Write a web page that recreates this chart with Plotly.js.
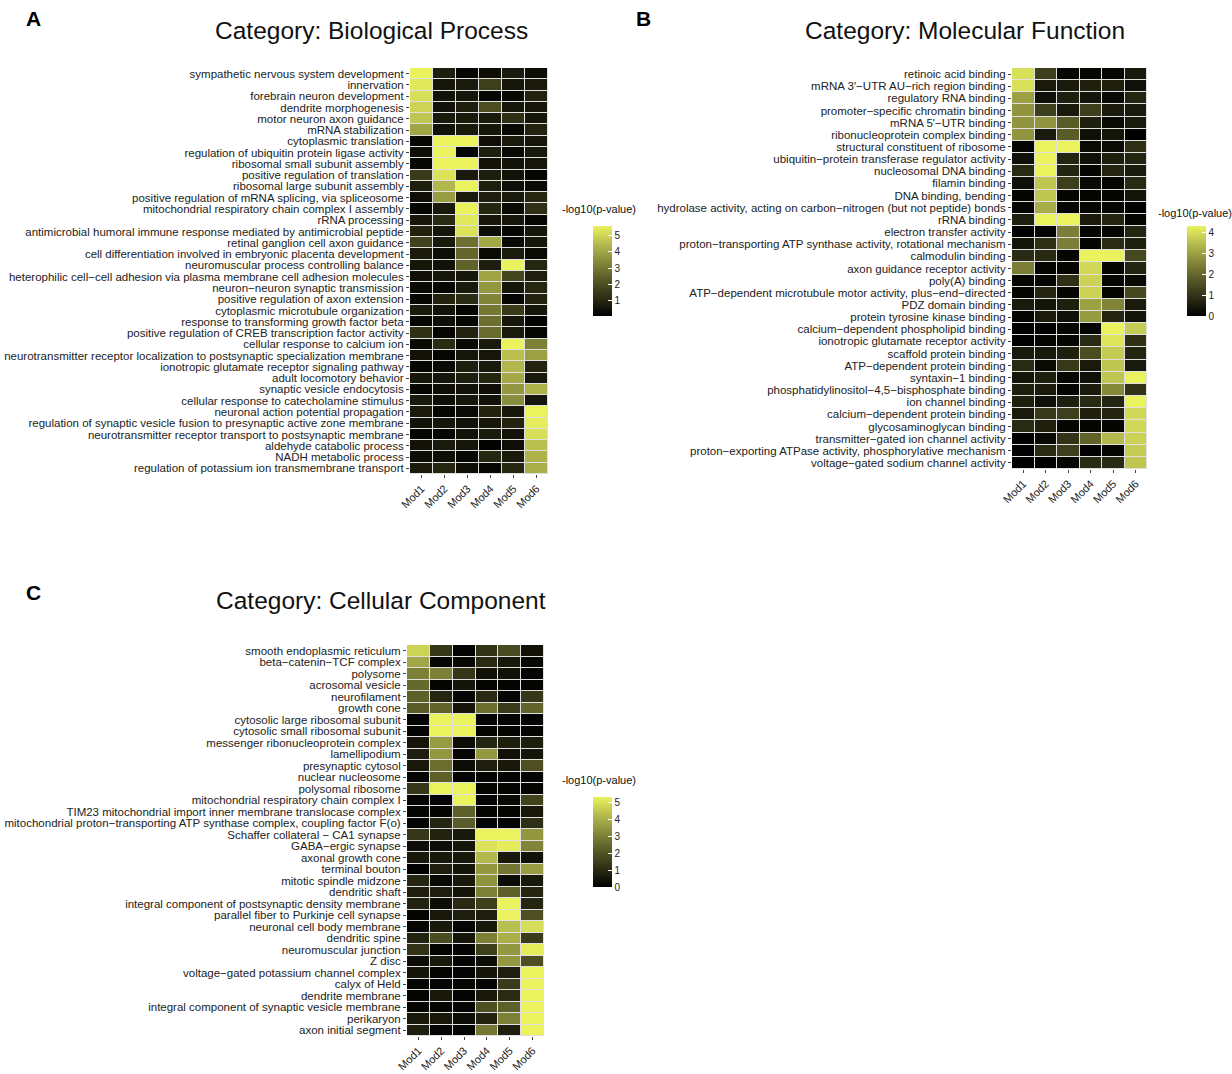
<!DOCTYPE html>
<html><head><meta charset="utf-8">
<script src="https://cdn.plot.ly/plotly-3.0.1.min.js"></script>
<style>body{margin:0;background:#fff}#chart{width:1232px;height:1074px}</style>
</head><body><div id="chart"></div>
<script>
const mods = ["Mod1","Mod2","Mod3","Mod4","Mod5","Mod6"];

const bpTerms = [
"sympathetic nervous system development","innervation","forebrain neuron development","dendrite morphogenesis","motor neuron axon guidance","mRNA stabilization",
"cytoplasmic translation","regulation of ubiquitin protein ligase activity","ribosomal small subunit assembly","positive regulation of translation","ribosomal large subunit assembly","positive regulation of mRNA splicing, via spliceosome",
"mitochondrial respiratory chain complex I assembly","rRNA processing","antimicrobial humoral immune response mediated by antimicrobial peptide","retinal ganglion cell axon guidance","cell differentiation involved in embryonic placenta development","neuromuscular process controlling balance",
"heterophilic cell−cell adhesion via plasma membrane cell adhesion molecules","neuron−neuron synaptic transmission","positive regulation of axon extension","cytoplasmic microtubule organization","response to transforming growth factor beta","positive regulation of CREB transcription factor activity",
"cellular response to calcium ion","neurotransmitter receptor localization to postsynaptic specialization membrane","ionotropic glutamate receptor signaling pathway","adult locomotory behavior","synaptic vesicle endocytosis","cellular response to catecholamine stimulus",
"neuronal action potential propagation","regulation of synaptic vesicle fusion to presynaptic active zone membrane","neurotransmitter receptor transport to postsynaptic membrane","aldehyde catabolic process","NADH metabolic process","regulation of potassium ion transmembrane transport"];

const bpValues = [
[5.6,0.8,0.2,0.4,0.7,0.4],[5.4,0.6,0.7,1.6,0.6,0.7],[5.2,0.5,0.6,0.2,0.3,0.9],[5.0,0.5,0.8,2.0,0.6,0.6],[4.7,0.7,0.7,0.7,1.2,0.6],[4.0,0.5,0.7,0.6,0.3,0.9],
[0.2,5.6,5.6,0.4,0.7,0.6],[0.4,5.6,0.2,0.8,0.3,0.7],[0.2,5.6,5.6,0.5,0.5,0.6],[1.5,5.3,0.7,0.8,0.5,0.2],[0.8,4.4,5.6,0.8,0.4,0.3],[0.4,3.8,0.7,0.8,0.7,1.0],
[0.2,0.7,5.6,1.0,0.3,1.2],[0.6,1.1,5.4,0.6,0.6,0.2],[0.9,0.6,5.3,0.4,0.2,0.6],[1.7,0.7,2.8,4.1,0.3,0.6],[0.7,0.4,2.6,0.3,0.7,0.3],[0.6,0.5,2.5,0.8,5.6,1.0],
[0.4,0.6,0.6,4.0,1.8,0.8],[0.3,0.2,0.7,3.7,0.6,1.0],[0.2,0.9,1.1,3.3,0.2,0.9],[0.7,0.5,0.2,3.0,1.5,0.6],[0.2,0.4,0.2,2.8,0.6,0.1],[1.2,0.2,0.9,2.7,0.7,0.2],
[0.3,1.1,0.3,0.7,5.6,3.2],[0.5,0.2,0.6,0.6,4.6,3.9],[0.2,0.3,0.8,0.7,4.4,0.9],[0.6,0.6,0.8,1.0,4.1,0.7],[0.2,0.4,0.5,0.4,3.7,4.3],[0.7,0.4,0.6,0.5,3.5,0.6],
[0.7,0.2,0.3,0.9,0.6,5.6],[0.5,0.6,0.5,0.6,0.9,5.5],[0.2,0.2,0.5,0.7,0.5,5.2],[0.5,0.7,0.6,0.1,0.4,4.6],[0.4,0.4,0.2,1.0,0.7,4.3],[0.7,1.0,0.4,0.2,1.0,4.2]];

const mfTerms = [
"retinoic acid binding","mRNA 3'−UTR AU−rich region binding","regulatory RNA binding","promoter−specific chromatin binding","mRNA 5'−UTR binding","ribonucleoprotein complex binding",
"structural constituent of ribosome","ubiquitin−protein transferase regulator activity","nucleosomal DNA binding","filamin binding","DNA binding, bending","hydrolase activity, acting on carbon−nitrogen (but not peptide) bonds",
"rRNA binding","electron transfer activity","proton−transporting ATP synthase activity, rotational mechanism","calmodulin binding","axon guidance receptor activity","poly(A) binding",
"ATP−dependent microtubule motor activity, plus−end−directed","PDZ domain binding","protein tyrosine kinase binding","calcium−dependent phospholipid binding","ionotropic glutamate receptor activity","scaffold protein binding",
"ATP−dependent protein binding","syntaxin−1 binding","phosphatidylinositol−4,5−bisphosphate binding","ion channel binding","calcium−dependent protein binding","glycosaminoglycan binding",
"transmitter−gated ion channel activity","proton−exporting ATPase activity, phosphorylative mechanism","voltage−gated sodium channel activity"];

const mfValues = [
[4.0,1.2,0.1,0.1,0.1,0.5],[4.0,0.5,0.5,0.6,0.6,0.3],[3.0,0.3,0.6,0.4,0.2,0.7],[2.8,1.2,0.5,1.2,0.5,0.5],[2.8,2.8,1.8,0.6,0.2,0.5],[2.8,0.5,1.8,0.3,0.4,0.0],
[0.1,4.3,4.3,0.2,0.2,0.9],[0.3,4.3,0.7,0.3,0.6,0.7],[0.8,4.3,0.7,0.1,0.7,0.5],[0.3,3.6,1.2,0.2,0.1,0.8],[0.1,3.6,0.1,0.1,0.1,0.4],[0.1,3.2,0.1,0.1,0.1,0.0],
[0.6,4.3,4.3,0.5,0.7,0.1],[0.0,0.1,2.4,0.1,0.1,0.7],[0.4,0.9,2.4,0.1,0.8,0.6],[0.8,0.8,0.1,4.3,4.3,1.4],[2.4,0.1,0.1,3.9,0.1,0.7],[0.1,0.1,0.9,3.8,0.1,0.2],
[0.1,0.7,0.1,3.8,0.1,1.4],[0.5,0.4,0.6,3.0,2.5,0.5],[0.1,0.5,0.3,2.9,0.7,0.4],[0.0,0.0,0.1,0.1,4.3,3.7],[0.0,0.1,0.1,0.8,4.1,0.9],[0.5,0.5,0.6,1.5,3.7,0.7],
[0.8,0.2,1.1,0.5,3.6,0.5],[0.4,0.6,0.1,0.3,3.6,4.3],[0.6,0.5,0.1,0.5,2.6,1.0],[0.6,0.3,0.6,0.8,0.7,4.3],[0.5,1.1,1.2,0.6,0.7,3.9],[0.8,0.6,0.1,0.1,0.1,3.9],
[0.0,0.2,1.0,1.9,3.4,3.8],[0.0,0.8,1.2,0.0,0.1,3.7],[0.0,0.0,0.1,0.8,0.8,3.6]];

const ccTerms = [
"smooth endoplasmic reticulum","beta−catenin−TCF complex","polysome","acrosomal vesicle","neurofilament","growth cone",
"cytosolic large ribosomal subunit","cytosolic small ribosomal subunit","messenger ribonucleoprotein complex","lamellipodium","presynaptic cytosol","nuclear nucleosome",
"polysomal ribosome","mitochondrial respiratory chain complex I","TIM23 mitochondrial import inner membrane translocase complex","mitochondrial proton−transporting ATP synthase complex, coupling factor F(o)","Schaffer collateral − CA1 synapse","GABA−ergic synapse",
"axonal growth cone","terminal bouton","mitotic spindle midzone","dendritic shaft","integral component of postsynaptic density membrane","parallel fiber to Purkinje cell synapse",
"neuronal cell body membrane","dendritic spine","neuromuscular junction","Z disc","voltage−gated potassium channel complex","calyx of Held",
"dendrite membrane","integral component of synaptic vesicle membrane","perikaryon","axon initial segment"];

const ccValues = [
[4.7,1.3,0.1,1.2,1.8,0.4],[3.8,0.1,0.2,1.0,0.6,0.2],[3.0,3.0,1.3,0.4,0.4,0.1],[2.5,0.1,0.5,0.1,0.1,0.1],[2.3,0.9,0.1,1.0,0.1,1.3],[2.2,2.4,0.5,2.6,1.4,2.4],
[0.1,5.3,5.3,0.1,0.1,0.1],[0.1,5.3,5.3,0.1,0.1,0.1],[0.5,3.6,0.3,0.9,0.7,0.7],[0.7,3.5,0.1,3.5,0.4,0.5],[0.6,2.6,0.3,0.7,0.6,1.9],[0.1,2.3,0.1,0.1,0.1,0.1],
[1.3,5.3,5.3,0.1,0.1,0.1],[0.1,0.1,5.3,0.1,0.2,1.6],[0.1,0.1,2.3,0.1,0.1,0.6],[0.1,0.9,2.2,0.1,0.1,1.1],[1.3,0.8,0.6,5.3,5.3,3.5],[0.3,0.3,0.5,5.0,5.2,3.1],
[0.6,0.6,0.6,4.2,0.6,0.4],[0.0,0.7,0.5,3.5,2.8,3.6],[0.9,0.2,0.6,3.4,0.3,0.6],[0.7,0.7,0.5,3.0,2.3,0.9],[0.8,0.3,1.0,1.5,5.3,0.9],[0.1,0.6,0.7,0.7,5.3,1.9],
[0.1,0.6,0.1,0.6,4.3,4.9],[0.8,1.8,0.5,3.0,4.0,1.4],[1.2,0.1,0.1,1.5,3.5,5.2],[0.3,0.6,0.1,0.3,3.5,1.9],[0.5,0.1,0.1,0.5,0.7,5.3],[0.1,0.1,0.1,0.1,1.4,5.3],
[0.1,0.6,0.1,0.6,1.0,5.3],[0.1,0.1,0.1,1.9,2.3,5.3],[0.6,0.6,0.3,0.8,3.0,5.3],[0.7,0.1,0.1,2.8,0.7,5.3]];

const W = 1232, H = 1074;
const cscale = [[0,"#000000"],[0.2,"#2c2d14"],[0.4,"#565826"],[0.6,"#84883a"],[0.8,"#b5bb4e"],[1,"#eaf25e"]];

function hm(z, y, xa, ya, zmin, zmax, tv, cbx, cbtop) {
  return {
    type: "heatmap", x: mods, y: y, z: z, xaxis: xa, yaxis: ya,
    zmin: zmin, zmax: zmax, colorscale: cscale, xgap: 1, ygap: 1,
    hoverinfo: "x+y+z",
    colorbar: {
      x: cbx / W, xanchor: "left", y: 1 - cbtop / H, yanchor: "top",
      lenmode: "pixels", len: 90, thickness: 19, xpad: 0, ypad: 0,
      outlinewidth: 0, tickvals: tv, ticks: "inside", ticklen: 4, tickcolor: "#ffffff",
      tickfont: {family: "Liberation Sans, Arial, sans-serif", size: 10, color: "#222"}
    }
  };
}

const traces = [
  hm(bpValues, bpTerms, "x", "y", 0.05, 5.6, [1,2,3,4,5], 593, 226),
  hm(mfValues, mfTerms, "x2", "y2", 0, 4.3, [0,1,2,3,4], 1187, 226),
  hm(ccValues, ccTerms, "x3", "y3", 0, 5.3, [0,1,2,3,4,5], 593, 797)
];

const tf = {family: "Liberation Sans, Arial, sans-serif", size: 11.5, color: "#222"};
const xf = {family: "Liberation Sans, Arial, sans-serif", size: 11, color: "#222"};
function xax(x0, x1, anchor) {
  return {domain: [x0 / W, x1 / W], anchor: anchor, type: "category", tickangle: -45,
    tickmode: "array", tickvals: mods, ticktext: mods,
    tickfont: xf, ticks: "outside", ticklen: 3, tickcolor: "#444", showgrid: false, zeroline: false, fixedrange: true};
}
function yax(y0, y1, anchor, terms) {
  return {domain: [1 - y1 / H, 1 - y0 / H], anchor: anchor, type: "category", autorange: "reversed",
    tickmode: "array", tickvals: terms, ticktext: terms,
    tickfont: tf, ticks: "outside", ticklen: 3, tickcolor: "#444", showgrid: false, zeroline: false, fixedrange: true};
}

const tfont = {family: "Liberation Sans, Arial, sans-serif", size: 24.5, color: "#111"};
const lfont = {family: "Liberation Sans, Arial, sans-serif", size: 21, color: "#000", weight: "bold"};
const cfont = {family: "Liberation Sans, Arial, sans-serif", size: 11, color: "#111"};
function ann(text, x, y, font, xanchor) {
  return {text: text, x: x / W, y: 1 - y / H, xref: "paper", yref: "paper", showarrow: false,
    xanchor: xanchor || "center", yanchor: "middle", font: font};
}

const layout = {
  width: W, height: H, margin: {l: 0, r: 0, t: 0, b: 0},
  paper_bgcolor: "#ffffff", plot_bgcolor: "#e0e0e0", showlegend: false,
  xaxis: xax(410, 548, "y"), yaxis: yax(68, 474, "x", bpTerms),
  xaxis2: xax(1012, 1147, "y2"), yaxis2: yax(68, 469, "x2", mfTerms),
  xaxis3: xax(407, 544, "y3"), yaxis3: yax(645, 1036, "x3", ccTerms),
  annotations: [
    ann("A", 33, 18, lfont), ann("B", 643, 18, lfont), ann("C", 33, 592, lfont),
    ann("Category: Biological Process", 371, 30, tfont),
    ann("Category: Molecular Function", 965, 30, tfont),
    ann("Category: Cellular Component", 381, 600, tfont),
    ann("-log10(p-value)", 560, 209, cfont, "left"),
    ann("-log10(p-value)", 1156, 213, cfont, "left"),
    ann("-log10(p-value)", 560, 780, cfont, "left")
  ]
};

Plotly.newPlot("chart", traces, layout, {displayModeBar: false, staticPlot: true});
</script></body></html>
